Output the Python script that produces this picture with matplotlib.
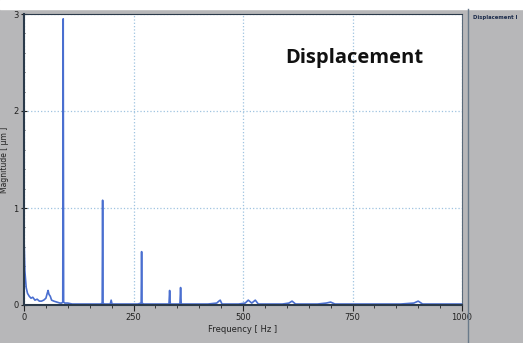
import numpy as np
import matplotlib.pyplot as plt
from matplotlib.ticker import MultipleLocator

# spectrum (Hz, um)
freq = [0, 2, 5, 8, 12, 16, 20, 25, 30, 35, 40, 45, 50, 53, 55, 57, 60, 63, 68, 75, 82, 86,
        88.5, 89.5, 90.5, 93, 100, 110, 120, 140, 160, 175, 178.5, 179.5, 180.5, 183, 190,
        197, 199, 201, 205, 220, 240, 260, 267.5, 268.5, 269.5, 273, 290, 310, 325,
        331, 332.5, 334, 340, 352, 356, 357.5, 359, 365, 375, 400, 420, 440, 445, 448, 452,
        470, 490, 505, 512, 520, 528, 535, 545, 560, 590, 605, 612, 620, 640, 670, 690,
        700, 710, 740, 780, 820, 860, 890, 900, 910, 930, 960, 1000]
mag = [0.70, 0.35, 0.18, 0.12, 0.09, 0.07, 0.08, 0.05, 0.06, 0.04, 0.04, 0.05, 0.07, 0.12, 0.15, 0.11, 0.09, 0.05, 0.04, 0.03, 0.02, 0.02,
       0.03, 2.95, 0.03, 0.02, 0.02, 0.01, 0.01, 0.01, 0.01, 0.01, 0.02, 1.08, 0.02, 0.01, 0.01,
       0.01, 0.05, 0.01, 0.01, 0.01, 0.01, 0.01, 0.02, 0.55, 0.02, 0.01, 0.01, 0.01, 0.01,
       0.01, 0.15, 0.01, 0.01, 0.01, 0.01, 0.18, 0.01, 0.01, 0.01, 0.01, 0.01, 0.02, 0.04, 0.05, 0.01,
       0.01, 0.01, 0.02, 0.05, 0.02, 0.05, 0.01, 0.01, 0.01, 0.01, 0.02, 0.04, 0.01, 0.01, 0.01, 0.02,
       0.03, 0.01, 0.01, 0.01, 0.01, 0.01, 0.02, 0.04, 0.01, 0.01, 0.01, 0.01]

bg = '#b7b7b9'
fig = plt.figure(figsize=(5.23, 3.43), dpi=100, facecolor=bg)
ax = fig.add_axes([24/523, 1-305/343, 438/523, 291/343])
ax.set_facecolor('white')

ax.plot(freq, mag, color='#4a6fd0', lw=1.2)

ax.set_xlim(0, 1000)
ax.set_ylim(0, 3)
ax.xaxis.set_major_locator(MultipleLocator(250))
ax.xaxis.set_minor_locator(MultipleLocator(50))
ax.yaxis.set_major_locator(MultipleLocator(1))
ax.yaxis.set_minor_locator(MultipleLocator(0.2))
ax.grid(which='major', linestyle=':', color='#9fc3e0', lw=0.9)
ax.tick_params(which='both', labelsize=6, color='#222222', labelcolor='#222222', pad=2)
ax.tick_params(axis='y', which='both', direction='inout')
ax.tick_params(which='major', length=4)
ax.tick_params(which='minor', length=2)
for s in ax.spines.values():
    s.set_color('#2b3a4a')
ax.spines['left'].set_linewidth(1.5)
ax.spines['bottom'].set_linewidth(1.5)
ax.spines['right'].set_color('#5a6a7a')

ax.set_xlabel('Frequency [ Hz ]', fontsize=6, color='#222222', labelpad=2)
ax.set_ylabel('Magnitude [ µm ]', fontsize=5.5, color='#222222', labelpad=3)

ax.text(0.753, 0.85, 'Displacement', transform=ax.transAxes, fontsize=14.5,
        fontweight='bold', family='Open Sans', ha='center', va='center', color='#111111')

# white strip on top and the legend panel on the right
fig.patches.append(plt.Rectangle((0, 1-9/343), 1, 9/343, transform=fig.transFigure,
                                 color='white', zorder=0))
fig.add_artist(plt.Line2D([468/523, 468/523], [0, 1-9/343], transform=fig.transFigure,
                          color='#6a7a8a', lw=1))
fig.text(473/523, 1-18/343, 'Displacement I', fontsize=3.8, color='#1a2a4a',
         fontweight='bold', va='center')

fig.savefig('out.png', dpi=100, facecolor=bg)
